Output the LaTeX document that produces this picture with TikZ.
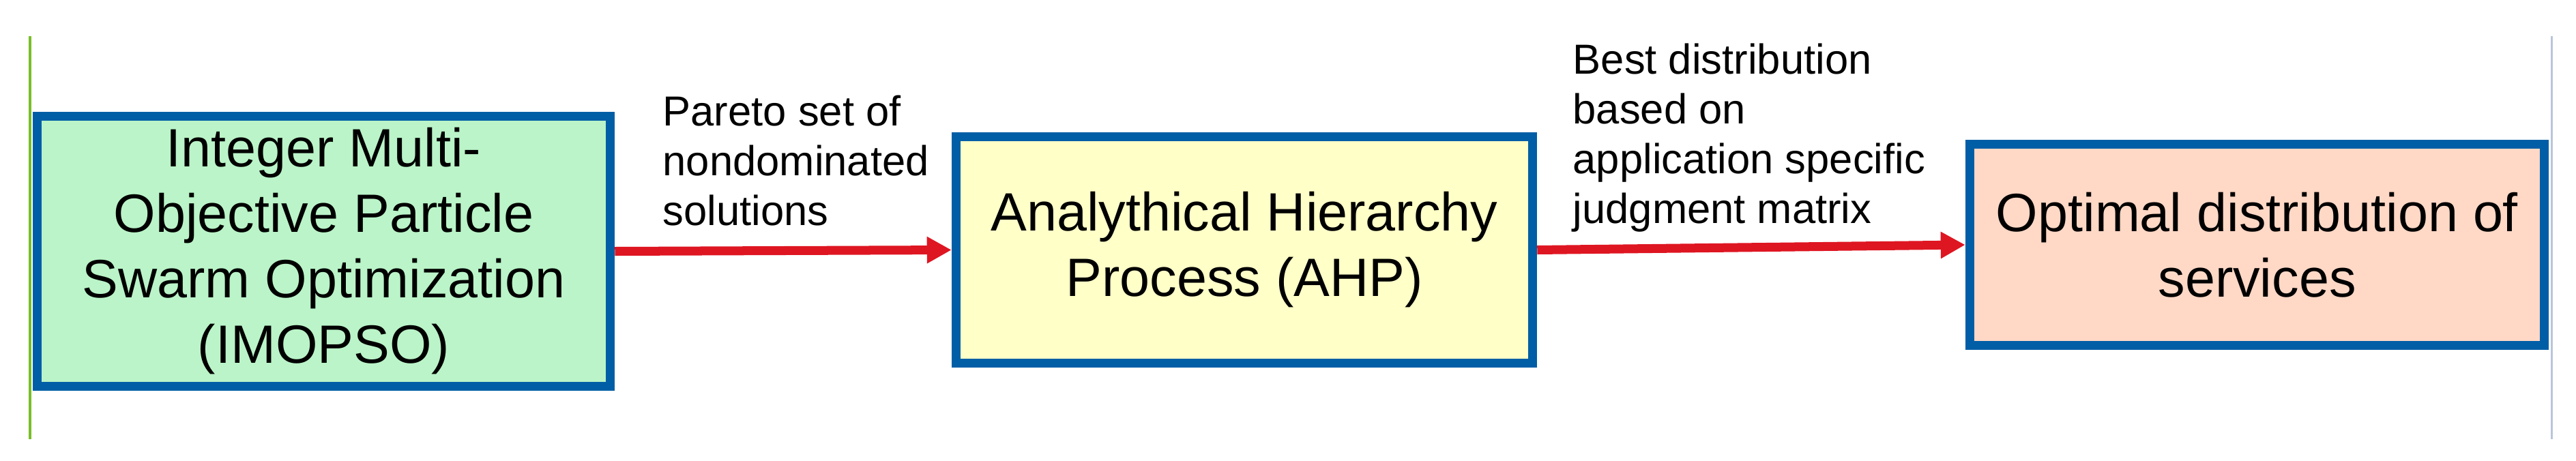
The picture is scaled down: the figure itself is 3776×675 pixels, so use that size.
\documentclass[tikz,border=0pt]{standalone}
\usepackage{fontspec}
\setmainfont{Liberation Sans}
\usetikzlibrary{arrows.meta}
\definecolor{boxblue}{RGB}{0,94,166}
\definecolor{fillgreen}{RGB}{186,244,200}
\definecolor{fillyellow}{RGB}{255,255,200}
\definecolor{fillsalmon}{RGB}{255,216,198}
\definecolor{arrowred}{RGB}{222,22,34}
\definecolor{leftline}{RGB}{120,190,40}
\definecolor{rightline}{RGB}{185,198,218}
\tikzset{
  procbox/.style={draw=boxblue, line width=0.13cm, align=center, inner sep=0pt,
    font=\fontsize{22.5}{27.3}\selectfont},
  edgelabel/.style={align=left, inner sep=0pt, anchor=north west,
    font=\fontsize{17.5}{20.8}\selectfont},
  flow/.style={draw=arrowred, line width=0.13cm,
    -{Triangle[length=0.36cm,width=0.37cm]}}
}
\begin{document}
\begin{tikzpicture}[x=0.01cm,y=-0.01cm]
\useasboundingbox (0,0) rectangle (3776,675);
\draw[leftline, line width=0.03cm] (44,53) -- (44,644);
\draw[rightline, line width=0.03cm] (3740,53) -- (3740,644);
\node[procbox, fill=fillgreen, minimum width=8.40cm, minimum height=3.96cm] (imopso) at (474.5,368.5)
  {Integer Multi-\\Objective Particle\\Swarm Optimization\\(IMOPSO)};
\node[procbox, fill=fillyellow, minimum width=8.45cm, minimum height=3.32cm] (ahp) at (1824,366.5)
  {Analythical Hierarchy\\Process (AHP)};
\node[procbox, fill=fillsalmon, minimum width=8.42cm, minimum height=2.95cm] (opt) at (3308.5,359)
  {Optimal distribution of\\services};
\draw[flow] (imopso.east) -- (ahp.west);
\draw[flow] (ahp.east) -- (opt.west);
\node[edgelabel] (l1) at (971,139) {Pareto set of\\nondominated\\solutions};
\node[edgelabel] (l2) at (2305,63) {Best distribution\\based on\\application specific\\judgment matrix};
\end{tikzpicture}
\end{document}
